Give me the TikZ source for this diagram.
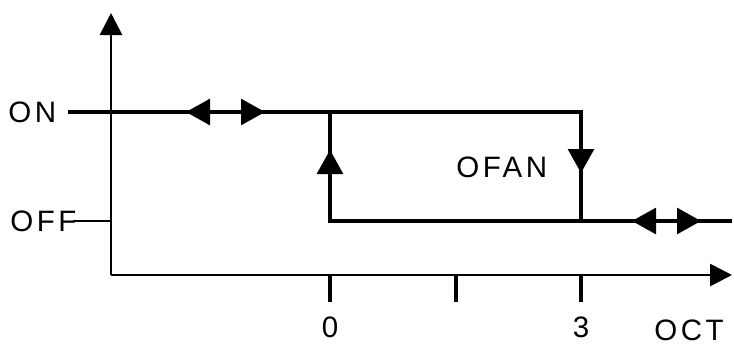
\documentclass[tikz,border=0pt]{standalone}
\usepackage{fontspec}
\setmainfont{Liberation Sans}
\usetikzlibrary{arrows.meta}
\def\xAxis{2.775}
\def\xZero{8.25}
\def\xMid{11.4}
\def\xThree{14.525}
\def\xEnd{18.3}
\def\yOn{5.875}
\def\yOff{3.15}
\def\yAxis{1.8}
\tikzset{
  hyline/.style={line width=2.2pt},
  hyaxis/.style={line width=2pt, -{Triangle[length=0.55cm, width=0.55cm]}},
  hytip/.style={line width=2pt, -{Triangle[length=0.6cm, width=0.65cm]}},
  hylbl/.style={font=\fontsize{21}{23}\selectfont\addfontfeature{LetterSpace=12}, inner sep=0pt},
}
\newcommand{\hytri}[2]{\draw[hytip] (#1) -- (#2);}
\newcommand{\hytick}[1]{\draw[hyline] (#1,\yAxis) -- (#1,1.125);}

\begin{document}
\begin{tikzpicture}
  \useasboundingbox (0,0) rectangle (18.35,8.675);
  % axes
  \coordinate (org) at (\xAxis,\yAxis);
  \coordinate (yTop) at (\xAxis,8.35);
  \coordinate (xEnd) at (\xEnd,\yAxis);
  \draw[hyaxis] (org) -- (yTop);
  \draw[hyaxis] (org) -- (xEnd);
  \hytick{\xZero}
  \hytick{\xMid}
  \hytick{\xThree}

  % hysteresis loop
  \coordinate (onL) at (1.7,\yOn);
  \coordinate (onR) at (\xThree,\yOn);
  \coordinate (offR) at (\xThree,\yOff);
  \coordinate (offL) at (\xZero,\yOff);
  \coordinate (onZ) at (\xZero,\yOn);
  \coordinate (offEnd) at (\xEnd,\yOff);
  \draw[hyline] (onL) -- (onR) -- (offR);
  \draw[hyline] (onZ) -- (offL) -- (offEnd);
  \draw[line width=1.6pt] (1.825,\yOff) -- (\xAxis,\yOff);

  \hytri{5.25,\yOn}{4.65,\yOn}
  \hytri{6.025,\yOn}{6.625,\yOn}
  \hytri{16.375,\yOff}{15.8,\yOff}
  \hytri{16.95,\yOff}{17.525,\yOff}
  \hytri{\xZero,4.35}{\xZero,4.925}
  \hytri{\xThree,4.975}{\xThree,4.35}

  % labels
  \node[hylbl, anchor=west] (lblOn) at (0.2,\yOn) {ON};
  \node[hylbl, anchor=west] (lblOff) at (0.25,\yOff) {OFF};
  \node[hylbl, anchor=west] (lblOfan) at (11.4,4.5) {OFAN};
  \node[hylbl] (lblZero) at (\xZero,0.5) {0};
  \node[hylbl] (lblThree) at (\xThree,0.5) {3};
  \node[hylbl, anchor=west] (lblOct) at (16.35,0.42) {OCT};
\end{tikzpicture}
\end{document}
